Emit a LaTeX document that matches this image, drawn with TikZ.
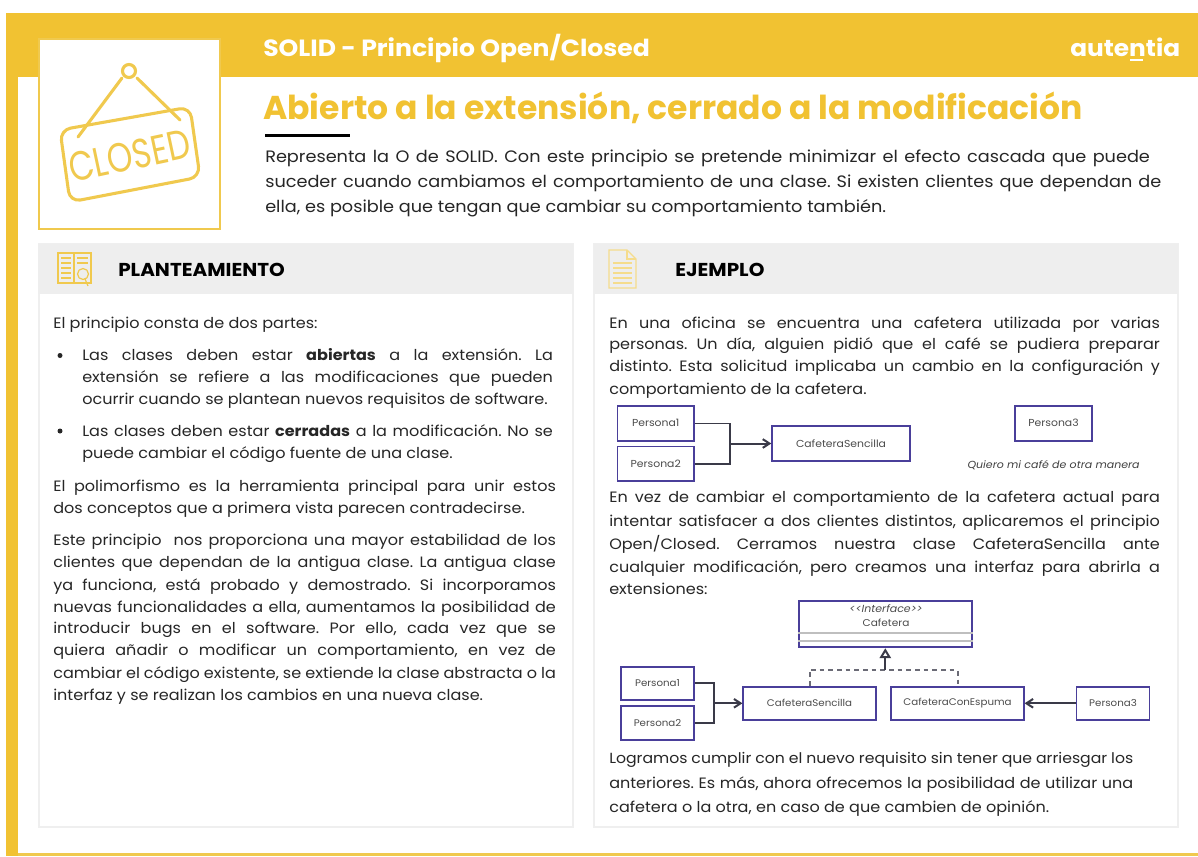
\documentclass[tikz,border=0pt]{standalone}
\usepackage{fontspec}
\setmainfont[FakeStretch=1.07]{Poppins}
\newfontfamily\plainf{Poppins}
\usetikzlibrary{arrows.meta}
\definecolor{ylw}{HTML}{F1C232}
\definecolor{ylwl}{HTML}{F0C94E}
\definecolor{hdr}{HTML}{EEEEEE}
\definecolor{pborder}{HTML}{EFEFEF}
\definecolor{txt}{HTML}{262626}
\definecolor{umlb}{HTML}{4A3F9A}
\definecolor{conn}{HTML}{3A3A48}
\newcommand{\JL}[2]{\hbox to #1{#2}}
\tikzset{
  x=0.75pt,y=-0.75pt,
  bt/.style={font=\fontsize{11.25}{12}\selectfont,text=txt,inner sep=0,anchor=base west},
  bts/.style={bt,font=\fontsize{11}{12}\selectfont},
  it/.style={font=\fontsize{12.4}{12}\selectfont,text=txt,inner sep=0,anchor=base west},
  umlbox/.style={draw=umlb,line width=1.3pt,fill=white,inner sep=0,text=black!70,font=\fontsize{7.6}{9}\selectfont},
  umlboxb/.style={umlbox,font=\fontsize{7.2}{9}\selectfont},
  cn/.style={draw=conn,line width=1.1pt},
  cnb/.style={draw=conn,line width=1.5pt},
  ar/.style={-{Straight Barb[length=5pt,width=6.5pt]}},
  icn/.style={draw=ylwl,line width=2.3pt,line cap=round,line join=round},
}
\begin{document}
\begin{tikzpicture}
\frenchspacing
\useasboundingbox (0,0) rectangle (1198,856);
\fill[white] (0,0) rectangle (1198,856);
% frame
\fill[ylw] (6,13) rectangle (1198,77);
\fill[ylw] (6,13) rectangle (18,856);
\fill[ylwl] (18,853) rectangle (1198,855.5);
% icon box
\draw[draw=ylwl,fill=white,line width=1.1pt] (39,39) rectangle (220,229);
% sign
\begin{scope}[icn]
\draw (129,71) circle (6.5);
\draw (122,78) -- (78,137);
\draw (137,78) -- (180,120);
\draw[rounded corners=8] (60,130) -- (190,107) -- (200,177) -- (70,202) -- cycle;
\node[rotate=12,text=ylwl,inner sep=0,font=\plainf\fontsize{28}{30}\selectfont] (closedtxt) at (129.5,156) {\scalebox{0.87}[1.1]{CLOSED}};
\end{scope}
% title texts
\node[inner sep=0,anchor=base west,text=white,font=\bfseries\fontsize{17.6}{20}\selectfont] (h1) at (263,56) {SOLID - Principio Open/Closed};
\node[inner sep=0,anchor=base west,text=white,font=\bfseries\fontsize{17.4}{20}\selectfont] (logo) at (1070,56) {autentia};
\fill[white] (1130,59.5) rectangle (1143,61.5);
\node[inner sep=0,anchor=base west,text=ylw,font=\plainf\bfseries\fontsize{24.75}{28}\selectfont] (h2) at (263,119) {Abierto a la extensión, cerrado a la modificación};
\fill[black] (265,134) rectangle (350,136.5);
\node[it] (i1) at (265,162) {\JL{663.5pt}{Representa la O de SOLID. Con este principio se pretende minimizar el efecto cascada que puede}};
\node[it] (i2) at (265,187.5) {\JL{672pt}{suceder cuando cambiamos el comportamiento de una clase. Si existen clientes que dependan de}};
\node[it] (i3) at (265,212) {ella, es posible que tengan que cambiar su comportamiento también.};
% panels
\draw[draw=pborder,fill=white,line width=0.9pt] (39,244) rectangle (573,827);
\fill[hdr] (38,244) rectangle (573,294);
\draw[draw=pborder,fill=white,line width=0.9pt] (594,244) rectangle (1178,827);
\fill[hdr] (594,244) rectangle (1178,294);
% panel icons
\begin{scope}[draw=ylwl,line width=0.9pt]
\draw (58,253) rectangle (91,283);
\draw (74,253) -- (74,283);
\foreach \yy in {258,263,268,273,278}{\draw (61,\yy) -- (71,\yy);}
\foreach \yy in {258,263}{\draw (77,\yy) -- (88,\yy);}
\draw[fill=hdr] (83,274) circle (5.5);
\draw (85,279) -- (88,286);
\end{scope}
\begin{scope}[draw=ylwl!65,line width=0.9pt]
\draw (609,250) -- (627,250) -- (636,259) -- (636,288) -- (609,288) -- cycle;
\draw (627,250) -- (627,259) -- (636,259);
\foreach \yy in {263,268,273,278,283}{\draw (613,\yy) -- (632,\yy);}
\end{scope}
\node[inner sep=0,anchor=base west,text=black,font=\bfseries\fontsize{14}{16}\selectfont] (p1) at (118,276) {PLANTEAMIENTO};
\node[inner sep=0,anchor=base west,text=black,font=\bfseries\fontsize{14}{16}\selectfont] (p2) at (675,276) {EJEMPLO};
% left text
\node[bt] (a0) at (53,328) {El principio consta de dos partes:};
\fill[txt] (60,355.5) circle (2.5);
\node[bt] (a1) at (82,360) {\JL{353pt}{Las clases deben estar \textbf{abiertas} a la extensión. La}};
\node[bt] (a2) at (82,382) {\JL{353pt}{extensión se refiere a las modificaciones que pueden}};
\node[bt] (a3) at (82,404) {ocurrir cuando se plantean nuevos requisitos de software.};
\fill[txt] (60,431) circle (2.5);
\node[bt] (a4) at (82,436) {\JL{353pt}{Las clases deben estar \textbf{cerradas} a la modificación. No se}};
\node[bt] (a5) at (82,458) {puede cambiar el código fuente de una clase.};
\node[bt] (a6) at (53,491) {\JL{377pt}{El polimorfismo es la herramienta principal para unir estos}};
\node[bt] (a7) at (53,513) {dos conceptos que a primera vista parecen contradecirse.};
\node[bt] (b1) at (53,545) {\JL{377pt}{Este principio\ \ nos proporciona una mayor estabilidad de los}};
\node[bt] (b2) at (53,567) {\JL{377pt}{clientes que dependan de la antigua clase. La antigua clase}};
\node[bt] (b3) at (53,590) {\JL{377pt}{ya funciona, está probado y demostrado. Si incorporamos}};
\node[bt] (b4) at (53,612) {\JL{377pt}{nuevas funcionalidades a ella, aumentamos la posibilidad de}};
\node[bt] (b5) at (53,633) {\JL{377pt}{introducir bugs en el software. Por ello, cada vez que se}};
\node[bt] (b6) at (53,655) {\JL{377pt}{quiera añadir o modificar un comportamiento, en vez de}};
\node[bt] (b7) at (53,678) {\JL{377pt}{cambiar el código existente, se extiende la clase abstracta o la}};
\node[bt] (b8) at (53,700) {interfaz y se realizan los cambios en una nueva clase.};
% right text
\node[bt] (c1) at (609,328) {\JL{413pt}{En una oficina se encuentra una cafetera utilizada por varias}};
\node[bt] (c2) at (609,349) {\JL{413pt}{personas. Un día, alguien pidió que el café se pudiera preparar}};
\node[bt] (c3) at (609,371) {\JL{413pt}{distinto. Esta solicitud implicaba un cambio en la configuración y}};
\node[bt] (c4) at (609,394) {comportamiento de la cafetera.};
\node[bt] (d1) at (609,502) {\JL{413pt}{En vez de cambiar el comportamiento de la cafetera actual para}};
\node[bt] (d2) at (609,526) {\JL{413pt}{intentar satisfacer a dos clientes distintos, aplicaremos el principio}};
\node[bt] (d3) at (609,549) {\JL{413pt}{Open/Closed. Cerramos nuestra clase CafeteraSencilla ante}};
\node[bt] (d4) at (609,572) {\JL{413pt}{cualquier modificación, pero creamos una interfaz para abrirla a}};
\node[bt] (d5) at (609,594) {extensiones:};
\node[bts] (e1) at (609,763) {\JL{393pt}{Logramos cumplir con el nuevo requisito sin tener que arriesgar los}};
\node[bt] (e2) at (609,788) {\JL{393pt}{anteriores. Es más, ahora ofrecemos la posibilidad de utilizar una}};
\node[bt] (e3) at (609,812) {cafetera o la otra, en caso de que cambien de opinión.};
% UML 1
\node[umlbox,minimum width=57.5pt,minimum height=26pt] (p1a) at (655.7,423.3) {Persona1};
\node[umlbox,minimum width=57.5pt,minimum height=26pt] (p2a) at (655.7,463.8) {Persona2};
\node[umlbox,minimum width=103.3pt,minimum height=26.2pt] (csa) at (841,443.5) {CafeteraSencilla};
\node[umlbox,minimum width=57.5pt,minimum height=26pt] (p3a) at (1053.5,423.3) {Persona3};
\node[inner sep=0,text=black!75,font=\itshape\fontsize{7.7}{9}\selectfont] (q) at (1053.6,465) {Quiero mi café de otra manera};
\coordinate (ja) at (730,443.5);
\draw[cn] (p1a.east) -| (ja);
\draw[cn] (p2a.east) -| (ja);
\draw[cnb,ar] (ja) -- (csa.west);
% UML 2
\node[umlbox,minimum width=129.5pt,minimum height=35pt] (ifc) at (885.3,624) {};
\node[inner sep=0,text=black!70,font=\itshape\fontsize{7.7}{8}\selectfont] (ifa) at (886,609) {<{}<Interface>{}>};
\node[inner sep=0,text=black!70,font=\fontsize{7.4}{8}\selectfont] (ifb) at (886,622.7) {Cafetera};
\draw[draw=black!25,line width=0.8pt] (ifc.west |- 0,633) -- (ifc.east |- 0,633);
\draw[draw=black!25,line width=0.8pt] (ifc.west |- 0,641) -- (ifc.east |- 0,641);
\node[umlboxb,minimum width=54.75pt,minimum height=25pt] (p1b) at (657.5,683.3) {Persona1};
\node[umlboxb,minimum width=54.75pt,minimum height=25pt] (p2b) at (657.5,723) {Persona2};
\node[umlboxb,minimum width=99.3pt,minimum height=25pt] (csb) at (809.5,703.3) {CafeteraSencilla};
\node[umlboxb,minimum width=99.3pt,minimum height=25pt] (cec) at (957.5,703.3) {CafeteraConEspuma};
\node[umlboxb,minimum width=54.75pt,minimum height=25pt] (p3b) at (1113,703.3) {Persona3};
\coordinate (jb) at (714,703.3);
\draw[cnb] (p1b.east) -| (jb);
\draw[cnb] (p2b.east) -| (jb);
\draw[cnb,ar] (jb) -- (csb.west);
\draw[cnb,ar] (p3b.west) -- (cec.east);
\coordinate (dj) at (885.3,670);
\draw[cnb,draw=conn!75,dash pattern=on 3.5pt off 3pt] (csb.north) |- (dj) -| (cec.north);
\draw[cnb,-{Triangle[open,length=7.5pt,width=8.5pt,fill=white]}] (dj) -- (ifc.south);
\end{tikzpicture}
\end{document}
